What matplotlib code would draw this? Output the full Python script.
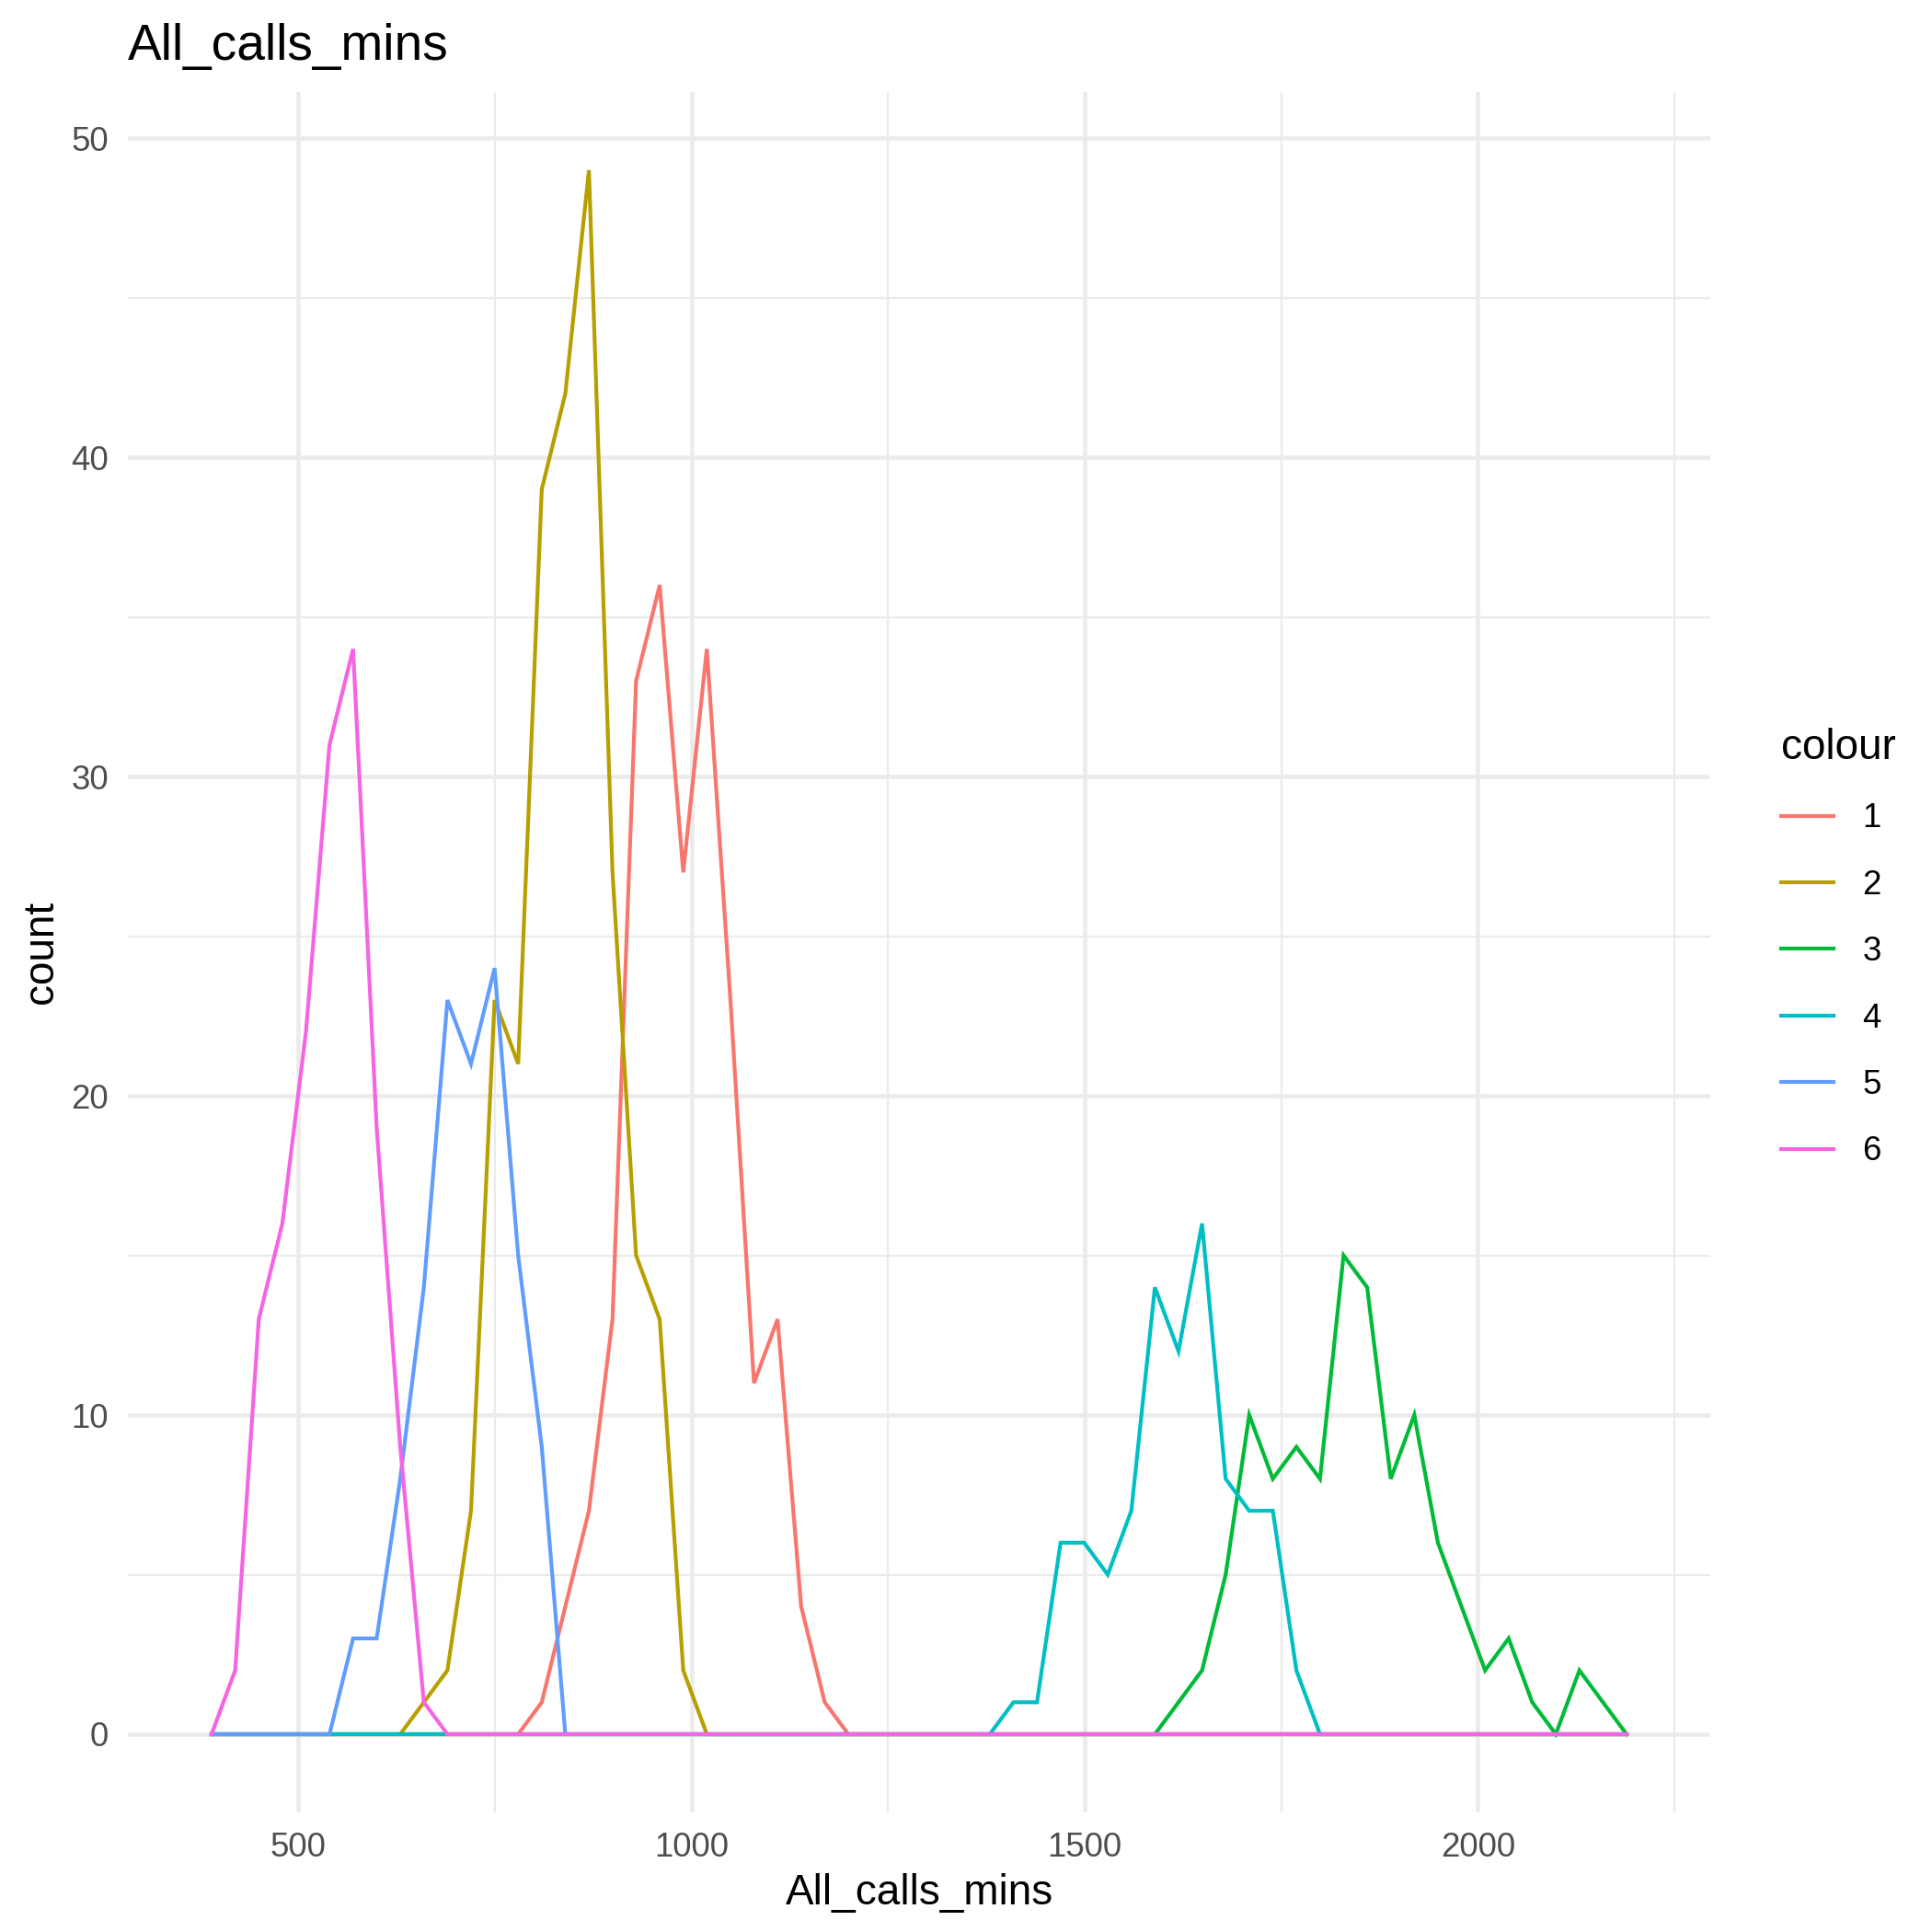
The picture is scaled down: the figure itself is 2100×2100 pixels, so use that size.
import numpy as np
import matplotlib
matplotlib.use("Agg")
import matplotlib.pyplot as plt
from matplotlib.ticker import FixedLocator

plt.rcParams['font.family'] = ['Liberation Sans', 'DejaVu Sans']

# frequency polygon counts, one value per bin (first and last bins are the empty padding bins)
first_bin_centre = 390.0
last_bin_centre = 2189.0
n_bins = 61

cluster_labels = ["1", "2", "3", "4", "5", "6"]
cluster_colours = ["#F8766D", "#B79F00", "#00BA38", "#00BFC4", "#619CFF", "#F564E3"]

counts_1 = [0, 0, 0, 0, 0, 0, 0, 0, 0, 0, 0, 0, 0, 0, 1, 4, 7, 13, 33, 36,
            27, 34, 23, 11, 13, 4, 1, 0, 0, 0, 0, 0, 0, 0, 0, 0, 0, 0, 0, 0,
            0, 0, 0, 0, 0, 0, 0, 0, 0, 0, 0, 0, 0, 0, 0, 0, 0, 0, 0, 0, 0]
counts_2 = [0, 0, 0, 0, 0, 0, 0, 0, 0, 1, 2, 7, 23, 21, 39, 42, 49, 27, 15, 13,
            2, 0, 0, 0, 0, 0, 0, 0, 0, 0, 0, 0, 0, 0, 0, 0, 0, 0, 0, 0,
            0, 0, 0, 0, 0, 0, 0, 0, 0, 0, 0, 0, 0, 0, 0, 0, 0, 0, 0, 0, 0]
counts_3 = [0, 0, 0, 0, 0, 0, 0, 0, 0, 0, 0, 0, 0, 0, 0, 0, 0, 0, 0, 0,
            0, 0, 0, 0, 0, 0, 0, 0, 0, 0, 0, 0, 0, 0, 0, 0, 0, 0, 0, 0,
            0, 1, 2, 5, 10, 8, 9, 8, 15, 14, 8, 10, 6, 4, 2, 3, 1, 0, 2, 1, 0]
counts_4 = [0, 0, 0, 0, 0, 0, 0, 0, 0, 0, 0, 0, 0, 0, 0, 0, 0, 0, 0, 0,
            0, 0, 0, 0, 0, 0, 0, 0, 0, 0, 0, 0, 0, 0, 1, 1, 6, 6, 5, 7,
            14, 12, 16, 8, 7, 7, 2, 0, 0, 0, 0, 0, 0, 0, 0, 0, 0, 0, 0, 0, 0]
counts_5 = [0, 0, 0, 0, 0, 0, 3, 3, 8, 14, 23, 21, 24, 15, 9, 0, 0, 0, 0, 0,
            0, 0, 0, 0, 0, 0, 0, 0, 0, 0, 0, 0, 0, 0, 0, 0, 0, 0, 0, 0,
            0, 0, 0, 0, 0, 0, 0, 0, 0, 0, 0, 0, 0, 0, 0, 0, 0, 0, 0, 0, 0]
counts_6 = [0, 2, 13, 16, 22, 31, 34, 19, 9, 1, 0, 0, 0, 0, 0, 0, 0, 0, 0, 0,
            0, 0, 0, 0, 0, 0, 0, 0, 0, 0, 0, 0, 0, 0, 0, 0, 0, 0, 0, 0,
            0, 0, 0, 0, 0, 0, 0, 0, 0, 0, 0, 0, 0, 0, 0, 0, 0, 0, 0, 0, 0]

all_counts = [counts_1, counts_2, counts_3, counts_4, counts_5, counts_6]

x_major = [500, 1000, 1500, 2000]
x_minor = [750, 1250, 1750, 2250]
y_major = [0, 10, 20, 30, 40, 50]
y_minor = [5, 15, 25, 35, 45]

bin_centres = np.linspace(first_bin_centre, last_bin_centre, n_bins)
half_width = (bin_centres[1] - bin_centres[0]) / 2

W = H = 2100
fig = plt.figure(figsize=(7, 7), dpi=300)
left, right, bottom, top = 139, 1859, 1970, 100
ax = fig.add_axes([left / W, 1 - bottom / H, (right - left) / W, (bottom - top) / H])

line_w = 1.0
for lab, col, cnt in zip(cluster_labels, cluster_colours, all_counts):
    ax.plot(bin_centres, cnt, color=col, lw=line_w, label=lab, solid_joinstyle='miter')

# ggplot-like expansion (5% of the bin edge range)
lo = bin_centres[0] - half_width
hi = bin_centres[-1] + half_width
pad = 0.05 * (hi - lo)
ax.set_xlim(lo - pad, hi + pad)
ymax = max(max(c) for c in all_counts)
ax.set_ylim(-0.05 * ymax, ymax * 1.05)

ax.xaxis.set_major_locator(FixedLocator(x_major))
ax.xaxis.set_minor_locator(FixedLocator(x_minor))
ax.yaxis.set_major_locator(FixedLocator(y_major))
ax.yaxis.set_minor_locator(FixedLocator(y_minor))
ax.grid(which='major', color='#EBEBEB', lw=1.1)
ax.grid(which='minor', color='#EBEBEB', lw=0.55)
ax.set_axisbelow(True)
for s in ax.spines.values():
    s.set_visible(False)
ax.tick_params(which='both', length=0)
ax.tick_params(axis='x', labelsize=8.8, labelcolor='#4D4D4D', pad=5)
ax.tick_params(axis='y', labelsize=8.8, labelcolor='#4D4D4D', pad=5)

pw, ph = right - left, bottom - top
ax.text(0, (bottom - 65) / ph, "All_calls_mins", transform=ax.transAxes,
        fontsize=13.2, ha='left', va='baseline', color='black')
ax.text(0.5, (bottom - 2070) / ph, "All_calls_mins", transform=ax.transAxes,
        fontsize=11, ha='center', va='baseline', color='black')
ax.text((45 - left) / pw, 0.5, "count", transform=ax.transAxes,
        fontsize=11, ha='center', va='center', rotation=90, color='black')

leg = ax.legend(title="colour", loc='upper left',
                bbox_to_anchor=(1936 / W, 1 - 791 / H), bbox_transform=fig.transFigure,
                frameon=False, fontsize=8.8, title_fontsize=11,
                handlelength=1.56, handletextpad=0.85, labelspacing=1.02,
                borderpad=0, borderaxespad=0, alignment='left')
for line in leg.get_lines():
    line.set_linewidth(line_w)

fig.savefig("out.png", dpi=300, facecolor='white')
